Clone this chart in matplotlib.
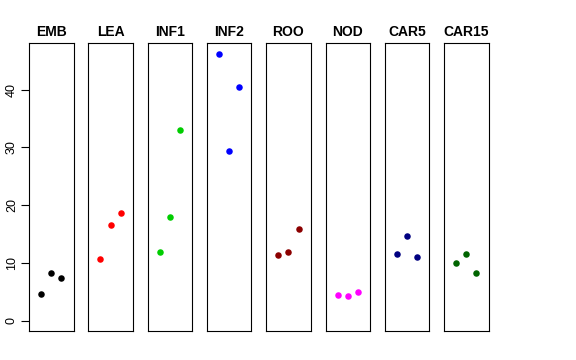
import matplotlib
matplotlib.use("Agg")
import matplotlib.pyplot as plt

plt.rcParams['font.family'] = ['Liberation Sans', 'DejaVu Sans']

# tissue groups and three replicate values each
groups = ['EMB', 'LEA', 'INF1', 'INF2', 'ROO', 'NOD', 'CAR5', 'CAR15']
values = [
    [4.6, 8.2, 7.3],
    [10.7, 16.6, 18.6],
    [11.9, 18.0, 33.0],
    [46.2, 29.3, 40.4],
    [11.3, 11.8, 15.9],
    [4.4, 4.2, 5.0],
    [11.5, 14.7, 11.0],
    [9.9, 11.6, 8.3],
]
colors = ['black', '#FF0000', '#00CD00', '#0000FF', '#8B0000', '#FF00FF', '#000080', '#006400']
reps = [1, 2, 3]

W, H = 576, 360
fig = plt.figure(figsize=(W / 100, H / 100), dpi=100)

left0 = 29
pw = 44.5
step = 59.3
top, bottom = 43, 331

for i, (g, vals, c) in enumerate(zip(groups, values, colors)):
    x0 = left0 + i * step
    ax = fig.add_axes([x0 / W, 1 - bottom / H, pw / W, (bottom - top) / H])
    ax.scatter(reps, vals, s=22, color=c, zorder=3, linewidths=0)
    ax.set_xlim(-0.2, 4.2)
    ax.set_ylim(-1.8, 48.05)
    ax.set_xticks([])
    for sp in ax.spines.values():
        sp.set_linewidth(0.8)
        sp.set_color('black')
    ax.set_title(g, fontsize=10, fontweight='bold', pad=5)
    if i == 0:
        ax.set_yticks([0, 10, 20, 30, 40])
        ax.tick_params(axis='y', length=6, width=0.8, labelsize=9, pad=2)
        for lab in ax.get_yticklabels():
            lab.set_rotation(90)
            lab.set_va('center')
    else:
        ax.set_yticks([])

fig.savefig('out.png', dpi=100)
